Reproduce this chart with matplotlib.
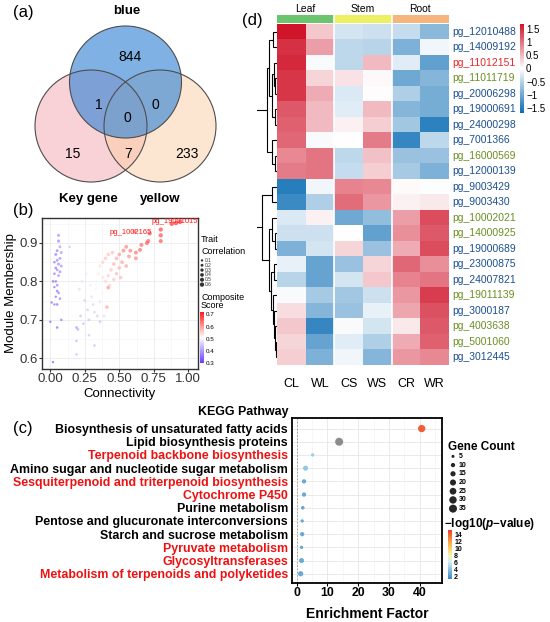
import numpy as np
import matplotlib
matplotlib.use('Agg')
import matplotlib.pyplot as plt
from matplotlib.patches import Circle
from matplotlib.colors import LinearSegmentedColormap, ListedColormap, Normalize
from matplotlib.cm import ScalarMappable

plt.rcParams['font.family'] = ['Liberation Sans', 'DejaVu Sans']
plt.rcParams['mathtext.fontset'] = 'custom'
plt.rcParams['mathtext.bf'] = 'Liberation Sans:bold'
plt.rcParams['mathtext.it'] = 'Liberation Sans:italic:bold'
plt.rcParams['mathtext.rm'] = 'Liberation Sans'

# ---------------- data ----------------
# (a) venn
venn_names = ['blue', 'Key gene', 'yellow']
venn_regions = ['blue', 'key', 'yellow', 'blue_key', 'blue_yellow', 'key_yellow', 'all']
venn_counts = [844, 15, 233, 1, 0, 7, 0]

# (b) module membership vs connectivity (three visual groups)
conn_p = [0.06, 0.06, 0.07, 0.05, 0.08, 0.04, 0.07, 0.05, 0.03, 0.06,
          0.08, 0.04, 0.05, 0.07, 0.03, 0.06, 0.02, 0.04, 0.05, 0.03,
          0.05, 0.06, 0.04, 0.07, 0.01, 0.03, 0.05, 0.08, 0.00, 0.05,
          0.02, 0.14]
mm_p = [0.92, 0.905, 0.89, 0.88, 0.875, 0.87, 0.86, 0.855, 0.85, 0.845,
        0.84, 0.835, 0.83, 0.825, 0.82, 0.815, 0.80, 0.80, 0.79, 0.785,
        0.775, 0.77, 0.76, 0.755, 0.745, 0.74, 0.74, 0.70, 0.695, 0.68,
        0.59, 0.89]
cs_p = [0.38, 0.37, 0.39, 0.36, 0.38, 0.35, 0.37, 0.36, 0.35, 0.37,
        0.38, 0.34, 0.36, 0.37, 0.35, 0.36, 0.33, 0.34, 0.35, 0.33,
        0.34, 0.35, 0.33, 0.36, 0.32, 0.33, 0.34, 0.35, 0.32, 0.33,
        0.31, 0.43]
tc_p = [0.25, 0.25, 0.2, 0.2, 0.2, 0.2, 0.2, 0.2, 0.15, 0.2,
        0.2, 0.15, 0.15, 0.2, 0.15, 0.15, 0.15, 0.15, 0.15, 0.1,
        0.15, 0.15, 0.1, 0.15, 0.1, 0.1, 0.15, 0.15, 0.1, 0.15,
        0.1, 0.1]

conn_m = [0.19, 0.20, 0.19, 0.19, 0.22, 0.24, 0.27, 0.28, 0.32, 0.34,
          0.36, 0.32, 0.39, 0.36, 0.31, 0.25, 0.28, 0.21, 0.23, 0.26,
          0.29, 0.30, 0.33, 0.35, 0.38]
mm_m = [0.68, 0.675, 0.645, 0.61, 0.71, 0.69, 0.726, 0.70, 0.72, 0.71,
        0.695, 0.633, 0.71, 0.747, 0.74, 0.75, 0.66, 0.78, 0.80, 0.82,
        0.79, 0.76, 0.78, 0.80, 0.77]
cs_m = [0.40, 0.41, 0.42, 0.43, 0.44, 0.43, 0.45, 0.44, 0.46, 0.45,
        0.44, 0.43, 0.47, 0.48, 0.46, 0.45, 0.44, 0.47, 0.48, 0.49,
        0.49, 0.47, 0.50, 0.51, 0.52]
tc_m = [0.2, 0.2, 0.15, 0.15, 0.2, 0.15, 0.2, 0.2, 0.2, 0.2,
        0.2, 0.15, 0.2, 0.25, 0.2, 0.2, 0.15, 0.2, 0.2, 0.25,
        0.25, 0.2, 0.25, 0.25, 0.25]

conn_r = [0.41, 0.42, 0.88, 0.91, 0.94, 0.80, 0.80, 0.80, 0.72, 0.71,
          0.70, 0.66, 0.65, 0.62, 0.61, 0.55, 0.53, 0.50, 0.57, 0.48,
          0.52, 0.46, 0.55, 0.50, 0.44, 0.48, 0.42, 0.46, 0.51, 0.40,
          0.43, 0.38, 0.40, 0.36, 0.58, 0.62, 0.45, 0.42, 0.35, 0.38,
          0.33]
mm_r = [0.733, 0.784, 0.950, 0.952, 0.955, 0.935, 0.92, 0.905, 0.925, 0.905,
        0.90, 0.895, 0.882, 0.875, 0.93, 0.89, 0.88, 0.87, 0.865, 0.86,
        0.85, 0.845, 0.84, 0.835, 0.83, 0.82, 0.815, 0.805, 0.81, 0.80,
        0.79, 0.85, 0.86, 0.84, 0.88, 0.86, 0.875, 0.87, 0.82, 0.81,
        0.80]
cs_r = [0.60, 0.62, 0.72, 0.72, 0.72, 0.70, 0.69, 0.68, 0.68, 0.67,
        0.67, 0.66, 0.66, 0.65, 0.66, 0.63, 0.63, 0.61, 0.62, 0.60,
        0.60, 0.59, 0.60, 0.59, 0.57, 0.58, 0.56, 0.57, 0.58, 0.55,
        0.55, 0.56, 0.57, 0.54, 0.64, 0.63, 0.58, 0.57, 0.53, 0.54,
        0.52]
tc_r = [0.35, 0.4, 0.6, 0.6, 0.6, 0.55, 0.55, 0.5, 0.55, 0.5,
        0.5, 0.5, 0.45, 0.45, 0.5, 0.45, 0.45, 0.4, 0.45, 0.4,
        0.4, 0.35, 0.4, 0.35, 0.35, 0.35, 0.3, 0.3, 0.35, 0.3,
        0.3, 0.35, 0.35, 0.3, 0.45, 0.45, 0.35, 0.35, 0.3, 0.3,
        0.3]

hub_labels = ['pg_19001015', 'pg_1002165']
hub_conn = [0.90, 0.585]
hub_mm = [0.957, 0.927]
trait_levels = [0.1, 0.2, 0.3, 0.4, 0.5, 0.6]

# (c) KEGG enrichment
kegg_terms = ['Biosynthesis of unsaturated fatty acids',
              'Lipid biosynthesis proteins',
              'Terpenoid backbone biosynthesis',
              'Amino sugar and nucleotide sugar metabolism',
              'Sesquiterpenoid and triterpenoid biosynthesis',
              'Cytochrome P450',
              'Purine metabolism',
              'Pentose and glucuronate interconversions',
              'Starch and sucrose metabolism',
              'Pyruvate metabolism',
              'Glycosyltransferases',
              'Metabolism of terpenoids and polyketides']
kegg_highlight = [False, False, True, False, True, True, False, False, False, True, True, True]
kegg_ef = [40.6, 13.8, 5.2, 2.9, 2.4, 2.4, 2.0, 1.8, 1.8, 1.6, 1.6, 1.3]
kegg_count = [29, 35, 6, 14, 10, 10, 7, 6, 10, 6, 14, 15]
kegg_logp = [14.3, np.nan, 4.6, 4.4, 3.0, 3.0, 2.9, 2.9, 3.0, 2.9, 3.1, 3.0]
count_levels = [5, 10, 15, 20, 25, 30, 35]

# (d) heatmap (row z-scores)
hm_cols = ['CL', 'WL', 'CS', 'WS', 'CR', 'WR']
hm_groups = ['Leaf', 'Stem', 'Root']
hm_rows = ['pg_12010488', 'pg_14009192', 'pg_11012151', 'pg_11011719', 'pg_20006298',
           'pg_19000691', 'pg_24000298', 'pg_7001366', 'pg_16000569', 'pg_12000139',
           'pg_9003429', 'pg_9003430', 'pg_10002021', 'pg_14000925', 'pg_19000689',
           'pg_23000875', 'pg_24007821', 'pg_19011139', 'pg_3000187', 'pg_4003638',
           'pg_5001060', 'pg_3012445']
hm_row_class = ['b', 'b', 'r', 'g', 'b', 'b', 'b', 'b', 'g', 'b', 'b',
                'b', 'g', 'g', 'b', 'b', 'b', 'g', 'b', 'g', 'g', 'b']
hm_values = [
    [1.70, 0.40, -0.30, -0.35, -0.40, -0.80],
    [1.50, 0.70, -0.45, -0.50, -0.90, -0.10],
    [1.55, -0.05, -0.45, 0.50, -0.20, -1.10],
    [1.45, 0.30, 0.20, 0.05, -1.00, -0.85],
    [1.45, 0.60, -0.25, 0.02, -0.55, -0.95],
    [1.20, 0.50, -0.20, 0.50, -0.85, -0.95],
    [1.15, 0.50, 0.10, 0.35, -0.65, -1.45],
    [1.10, -0.05, 0.00, 0.95, -1.40, -0.45],
    [0.85, 1.00, -0.45, 0.45, -0.70, -0.70],
    [0.95, 1.00, -0.40, 0.35, -0.60, -0.90],
    [-1.50, -0.10, 0.90, 0.85, 0.03, -0.02],
    [-1.35, -0.55, 1.05, 0.75, 0.10, 0.15],
    [-0.25, 0.10, -1.00, -0.75, 0.70, 1.30],
    [-0.35, -0.35, 0.00, -1.10, 0.80, 1.20],
    [-0.90, -0.30, 0.30, -0.70, 0.60, 1.30],
    [-0.15, -1.05, -0.70, 0.30, 1.10, 0.80],
    [-0.50, -1.05, -0.30, 0.40, 0.90, 1.00],
    [-0.05, -0.60, -0.65, -0.35, 0.75, 1.40],
    [0.25, -0.85, -0.70, -0.15, 0.65, 1.25],
    [0.40, -1.40, -0.05, -0.30, 0.15, 1.20],
    [0.30, -1.05, -0.20, -0.55, 0.60, 1.15],
    [0.35, -0.90, -0.10, -0.85, 0.75, 0.85],
]
# row dendrogram: (left, right, height), leaves are row indices
top_tree = (((0, 1, 0.29), ((2, (3, 4, 0.12), 0.2), (5, 6, 0.15), 0.35), 0.5),
            (7, (8, 9, 0.15), 0.35), 0.67)
bottom_tree = ((10, 11, 0.3),
               ((12, (13, 14, 0.15), 0.35),
                ((15, 16, 0.2), (17, (18, (19, (20, 21, 0.08), 0.12), 0.18), 0.28), 0.4),
                0.55), 1.0)
row_tree = (top_tree, bottom_tree, 1.6)

# ---------------- figure ----------------
W, H = 550, 622
fig = plt.figure(figsize=(W / 100, H / 100), dpi=100)


def rect(l, t, r, b):
    return [l / W, 1 - b / H, (r - l) / W, (b - t) / H]


def ftext(x, y, s, **kw):
    fig.text(x / W, 1 - y / H, s, **kw)


# ---- (a) venn ----
ax_a = fig.add_axes(rect(0, 0, 250, 210))
ax_a.set_xlim(0, 250)
ax_a.set_ylim(210, 0)
ax_a.axis('off')
circ = {'Key gene': ((91, 126), '#f4a6b0', 0.5),
        'yellow': ((160, 126), '#fbcfa5', 0.5),
        'blue': ((125.5, 82), '#3b88d6', 0.65)}
for name in ['Key gene', 'yellow', 'blue']:
    c, col, a = circ[name]
    ax_a.add_patch(Circle(c, 56, facecolor=col, alpha=a, edgecolor='none'))
for name in ['Key gene', 'yellow', 'blue']:
    c, col, a = circ[name]
    ax_a.add_patch(Circle(c, 56, facecolor='none', edgecolor='#4d4d4d', lw=0.8))
region_pos = {'blue': (130, 57), 'key': (73, 154), 'yellow': (187, 154),
              'blue_key': (99, 105), 'blue_yellow': (155, 105),
              'key_yellow': (128, 154), 'all': (127, 118)}
for reg, n in zip(venn_regions, venn_counts):
    x, y = region_pos[reg]
    ax_a.text(x, y, str(n), ha='center', va='center', fontsize=10)
name_pos = [(127, 11), (88, 199), (160, 199)]
for name, (x, y) in zip(venn_names, name_pos):
    ax_a.text(x, y, name, ha='center', va='center', fontsize=9.5, fontweight='bold')

# ---- (b) scatter ----
ax_b = fig.add_axes(rect(42, 218, 198, 369))
cmap_cs = LinearSegmentedColormap.from_list('cs', ['#6a3cff', '#ffffff', '#ff1c1c'])
norm_cs = Normalize(0.3, 0.72)
conn = np.array(conn_p + conn_m + conn_r)
mm = np.array(mm_p + mm_m + mm_r)
cs = np.array(cs_p + cs_m + cs_r)
tc = np.array(tc_p + tc_m + tc_r)
ax_b.scatter(conn, mm, s=1.5 + 14 * tc, c=cs, cmap=cmap_cs, norm=norm_cs,
             alpha=0.65, edgecolors='none', zorder=3)
for lab, x, y in zip(hub_labels, hub_conn, hub_mm):
    ax_b.text(x, y, lab, color='#ff1a1a', fontsize=5.5, ha='center', va='center', zorder=4)
ax_b.set_xlim(-0.06, 1.07)
ax_b.set_ylim(0.572, 0.965)
ax_b.set_xticks([0, 0.25, 0.5, 0.75, 1.0])
ax_b.set_xticklabels(['0.00', '0.25', '0.50', '0.75', '1.00'])
ax_b.set_yticks([0.6, 0.7, 0.8, 0.9])
ax_b.set_xticks([0.125, 0.375, 0.625, 0.875], minor=True)
ax_b.set_yticks([0.65, 0.75, 0.85, 0.95], minor=True)
ax_b.grid(which='major', color='#ebebeb', lw=0.6)
ax_b.grid(which='minor', color='#f4f4f4', lw=0.4)
ax_b.set_axisbelow(True)
ax_b.tick_params(labelsize=9.5, colors='#333333', length=2, pad=1)
ax_b.tick_params(which='minor', length=0)
for sp in ax_b.spines.values():
    sp.set_color('#333333')
    sp.set_linewidth(1.0)
ax_b.set_xlabel('Connectivity', fontsize=9.5, labelpad=2)
ax_b.set_ylabel('Module Membership', fontsize=9.5, labelpad=2)

ftext(201, 240, 'Trait', fontsize=6.5, va='center')
ftext(201, 251, 'Correlation', fontsize=6.5, va='center')
ax_tl = fig.add_axes(rect(199, 258, 215, 287))
ax_tl.set_xlim(0, 16)
ax_tl.set_ylim(len(trait_levels) - 0.5, -0.5)
ax_tl.axis('off')
ax_tl.scatter([3] * len(trait_levels), range(len(trait_levels)),
              s=1.5 + 14 * np.array(trait_levels), c='#333333', edgecolors='none')
for i, v in enumerate(trait_levels):
    ax_tl.text(6, i, str(v), fontsize=3.5, va='center', color='#333333')
ftext(201, 297, 'Composite', fontsize=6.5, va='center')
ftext(201, 306, 'Score', fontsize=6.5, va='center')
cax_b = fig.add_axes(rect(200, 312, 204, 363))
cb_b = fig.colorbar(ScalarMappable(norm=norm_cs, cmap=cmap_cs), cax=cax_b,
                    ticks=[0.3, 0.4, 0.5, 0.6, 0.7])
cb_b.outline.set_visible(False)
cax_b.tick_params(length=0, labelsize=4.5, pad=1.5)

# ---- (c) KEGG bubble ----
ax_c = fig.add_axes(rect(292, 418, 442, 583))
cmap_p = LinearSegmentedColormap.from_list(
    'lp', [(0.0, '#3a86c8'), (0.2, '#8cc4e0'), (0.35, '#d8eef5'), (0.48, '#f8f4b0'),
           (0.62, '#fdd070'), (0.78, '#f99a40'), (1.0, '#f03a2e')])
norm_p = Normalize(1.4, 15.4)
ypos = np.arange(len(kegg_terms))
dot_cols = ['#8c8c8c' if np.isnan(v) else cmap_p(norm_p(v)) for v in kegg_logp]
ax_c.scatter(kegg_ef, ypos, s=0.95 * np.array(kegg_count), c=dot_cols,
             edgecolors='none', zorder=3)
ax_c.axvline(0, color='#9a9a9a', lw=0.6, ls=(0, (2, 2)), zorder=2)
ax_c.set_xlim(-1.5, 47.2)
ax_c.set_ylim(len(kegg_terms) - 0.3, -0.8)
ax_c.set_xticks([0, 10, 20, 30, 40])
ax_c.set_xticks([5, 15, 25, 35, 45], minor=True)
ax_c.set_yticks(ypos)
ax_c.set_yticklabels(kegg_terms)
for lab, hi in zip(ax_c.get_yticklabels(), kegg_highlight):
    lab.set_color('#ee1111' if hi else 'black')
    lab.set_fontweight('bold')
ax_c.tick_params(axis='y', labelsize=8.9, length=0, pad=3)
ax_c.tick_params(axis='x', labelsize=8.8, length=2, pad=1)
for lab in ax_c.get_xticklabels():
    lab.set_fontweight('bold')
ax_c.tick_params(which='minor', length=0)
ax_c.grid(which='major', color='#e6e6e6', lw=0.6)
ax_c.grid(which='minor', axis='x', color='#f2f2f2', lw=0.4)
ax_c.set_axisbelow(True)
for sp in ax_c.spines.values():
    sp.set_linewidth(1.3)
ax_c.set_xlabel('Enrichment Factor', fontsize=10, fontweight='bold', labelpad=6)
ftext(288, 412, 'KEGG Pathway', fontsize=8.9, fontweight='bold', ha='right', va='center')

ftext(448, 447, 'Gene Count', fontsize=8.5, fontweight='bold', va='center')
ax_gc = fig.add_axes(rect(446, 452, 480, 513))
ax_gc.set_xlim(0, 34)
ax_gc.set_ylim(len(count_levels) - 0.5, -0.5)
ax_gc.axis('off')
ax_gc.scatter([7] * len(count_levels), range(len(count_levels)),
              s=0.95 * np.array(count_levels), c='#262626', edgecolors='none')
for i, v in enumerate(count_levels):
    ax_gc.text(13, i, str(v), fontsize=5, fontweight='bold', va='center')
ftext(444, 524, r'$\mathbf{-log10(}\mathit{p}\mathbf{-value)}$', fontsize=8.5, va='center')
cax_c = fig.add_axes(rect(448, 530, 452, 579))
cb_c = fig.colorbar(ScalarMappable(norm=norm_p, cmap=cmap_p), cax=cax_c,
                    ticks=[2, 4, 6, 8, 10, 12, 14])
cb_c.outline.set_visible(False)
cax_c.tick_params(length=0, labelsize=5, pad=1.5)
for lab in cax_c.get_yticklabels():
    lab.set_fontweight('bold')

# ---- (d) heatmap ----
cmap_hm = LinearSegmentedColormap.from_list('hm', ['#0b6db5', '#ffffff', '#d0152b'])
norm_hm = Normalize(-1.7, 1.7)
ax_hm = fig.add_axes(rect(277, 24, 449, 365))
vals = np.array(hm_values)
ax_hm.imshow(vals, cmap=cmap_hm, norm=norm_hm, aspect='auto',
             extent=(0, len(hm_cols), len(hm_rows), 0), interpolation='nearest')
for xg in [2, 4]:
    ax_hm.axvline(xg, color='white', lw=1.2)
ax_hm.set_xlim(0, len(hm_cols))
ax_hm.set_ylim(len(hm_rows), 0)
ax_hm.axis('off')
row_col = {'b': '#1b4f8f', 'g': '#6b8e23', 'r': '#e8262b'}
for i, (name, cl) in enumerate(zip(hm_rows, hm_row_class)):
    ax_hm.text(len(hm_cols) + 0.1, i + 0.5, name, color=row_col[cl], fontsize=7.5,
               va='center', ha='left')
for j, c in enumerate(hm_cols):
    ax_hm.text(j + 0.5, len(hm_rows) + 1.2, c, fontsize=9, ha='center', va='center')

ax_ann = fig.add_axes(rect(277, 15, 449, 23))
group_idx = np.array([[0, 0, 1, 1, 2, 2]])
ax_ann.imshow(group_idx, cmap=ListedColormap(['#6cc46e', '#eef064', '#f5b57f']),
              aspect='auto', extent=(0, 6, 1, 0))
for xg in [2, 4]:
    ax_ann.axvline(xg, color='white', lw=1.2)
ax_ann.set_xlim(0, 6)
ax_ann.set_ylim(1, 0)
ax_ann.axis('off')
for k, g in enumerate(hm_groups):
    ax_ann.text(2 * k + 1, -0.7, g, fontsize=7.5, ha='center', va='center', clip_on=False)

cax_d = fig.add_axes(rect(520, 24, 524, 113))
cb_d = fig.colorbar(ScalarMappable(norm=norm_hm, cmap=cmap_hm), cax=cax_d,
                    ticks=[-1.5, -1, -0.5, 0, 0.5, 1, 1.5])
cb_d.outline.set_visible(False)
cax_d.set_yticklabels(['\u22121.5', '\u22121', '\u22120.5', '0', '0.5', '1', '1.5'])
cax_d.tick_params(length=0, labelsize=7, pad=1.5)

# dendrogram
ax_dn = fig.add_axes(rect(257, 24, 277, 365))
ax_dn.set_xlim(1.33, 0)
ax_dn.set_ylim(len(hm_rows), 0)
ax_dn.axis('off')


def draw_tree(node):
    if isinstance(node, int):
        return node + 0.5, 0.0
    left, right, h = node
    yl, hl = draw_tree(left)
    yr, hr = draw_tree(right)
    ax_dn.plot([hl, h, h, hr], [yl, yl, yr, yr], color='black', lw=0.8,
               solid_joinstyle='miter')
    return (yl + yr) / 2, h


draw_tree(row_tree)

# panel labels
ftext(13, 13, '(a)', fontsize=12, va='center')
ftext(13, 210, '(b)', fontsize=12, va='center')
ftext(13, 428, '(c)', fontsize=12, va='center')
ftext(242, 20, '(d)', fontsize=12, va='center')

fig.savefig('out.png', dpi=100)
